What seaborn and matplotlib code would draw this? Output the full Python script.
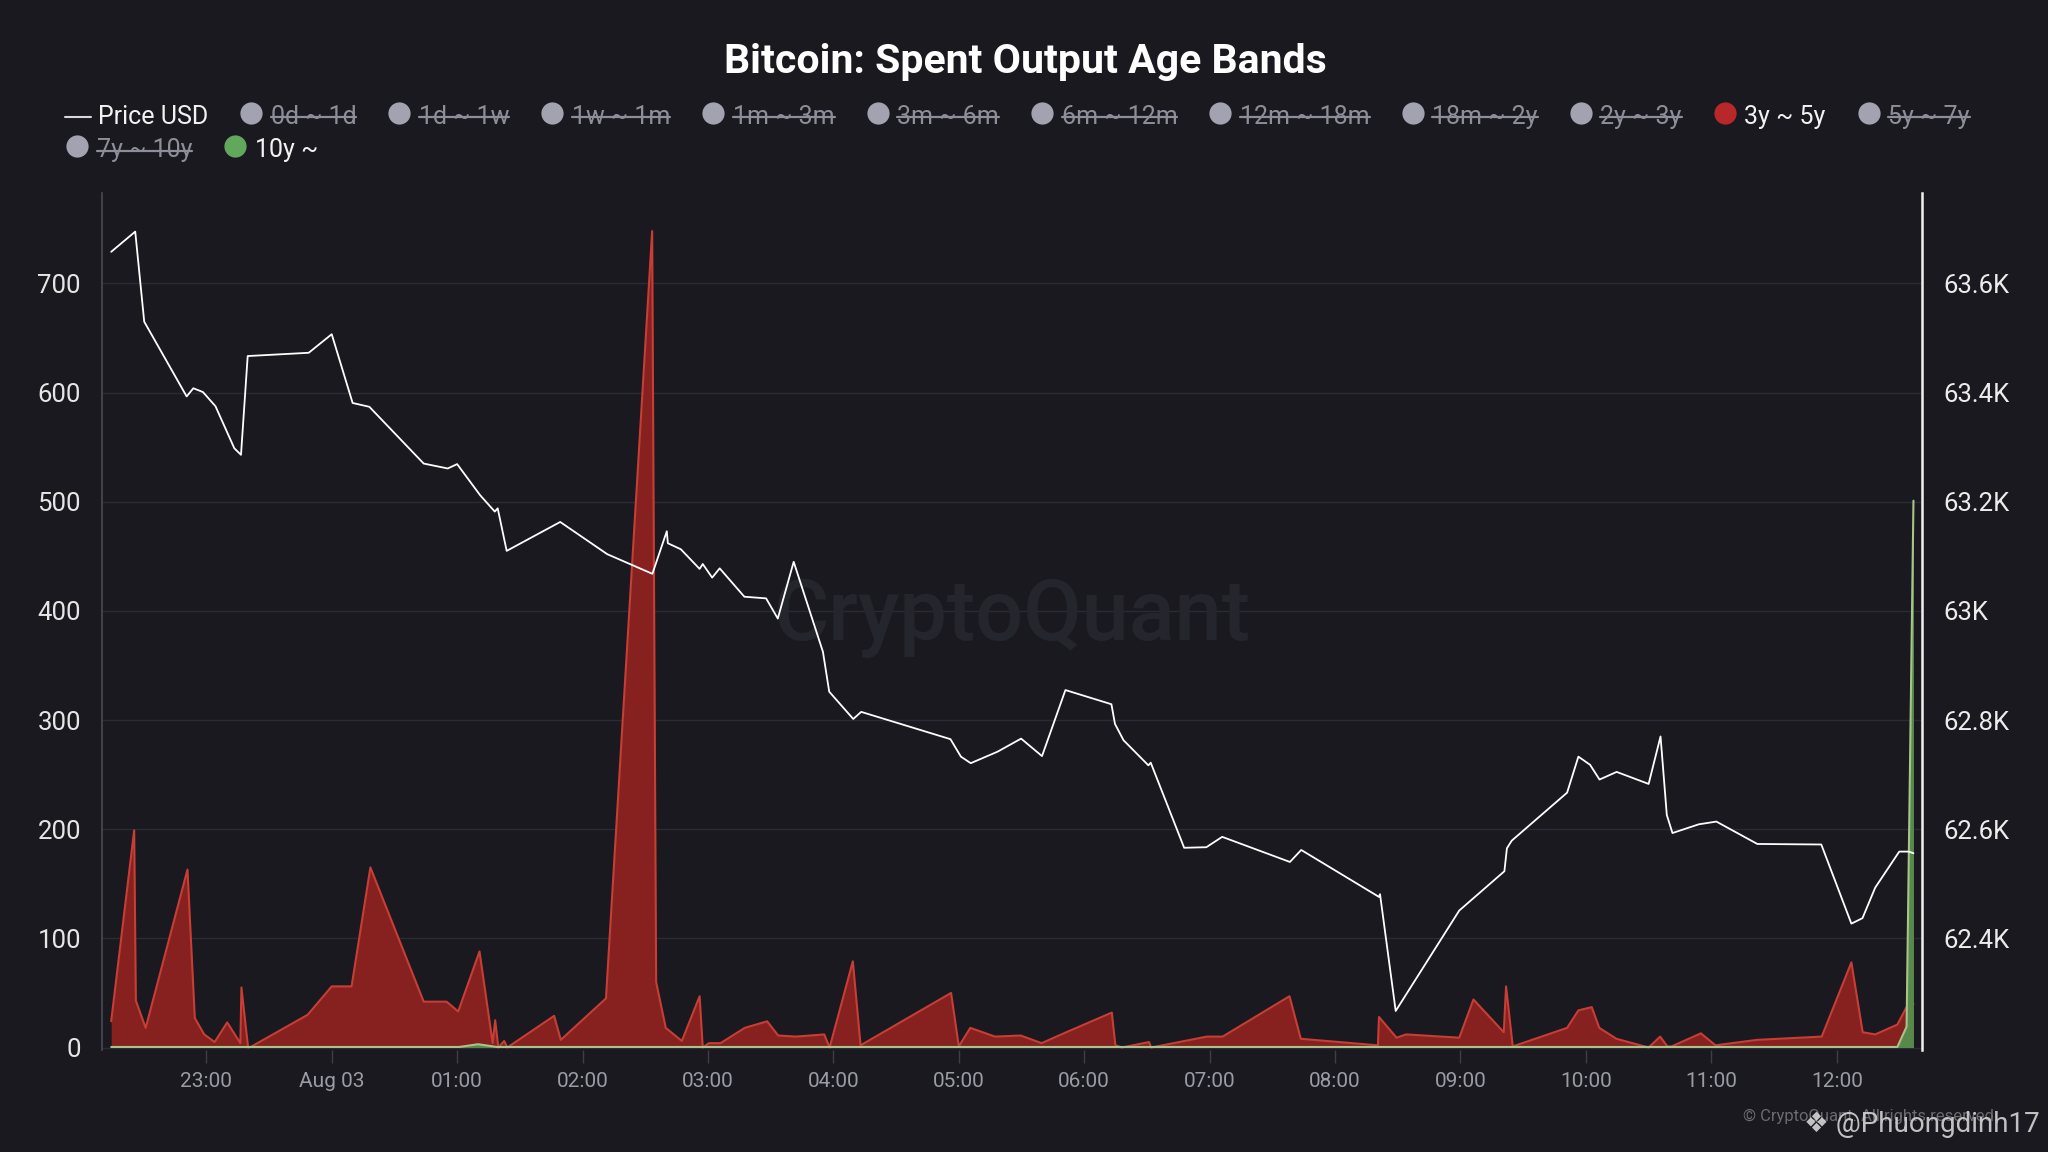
import matplotlib.pyplot as plt
import matplotlib.dates as mdates
from matplotlib.ticker import FuncFormatter
from matplotlib.lines import Line2D
import seaborn as sns
import pandas as pd

# time axis: minutes after 2024-08-02 22:00
start = pd.Timestamp("2024-08-02 22:00")

price_min = [14.5, 26, 30.3, 50.6, 53.8, 58.4, 64.4, 73.4, 76.6, 79.8,
             109, 120, 130, 138, 164, 175.5, 180, 191, 198, 199.4,
             203.7, 229.3, 251.8, 273.4, 280.3, 280.8, 287, 296, 297.5, 302,
             305.6, 317.4, 327.8, 333.4, 341, 355, 358, 369.5, 373.3, 416,
             421, 425.7, 438.5, 449.8, 459.8, 471, 493, 494.7, 498.8, 510.7,
             511.8, 527.8, 538.4, 546, 578.4, 583.8, 621, 621.5, 629, 659.4,
             681, 682.2, 684.5, 711, 716.4, 722, 726.5, 734.7, 750, 755.7,
             758.7, 761.4, 774, 782.4, 802, 832.6, 847, 852.3, 858.4, 869.9,
             874.4, 876.7]
price_usd = [63658, 63695, 63530, 63393, 63408, 63401, 63375, 63298, 63286, 63467,
             63473, 63507, 63381, 63374, 63270, 63261, 63269, 63212, 63182, 63188,
             63110, 63163, 63104, 63068, 63146, 63124, 63113, 63077, 63086, 63061,
             63078, 63026, 63023, 62986, 63090, 62925, 62852, 62802, 62815, 62765,
             62733, 62721, 62742, 62766, 62734, 62855, 62829, 62793, 62763, 62717,
             62722, 62566, 62567, 62586, 62540, 62562, 62476, 62481, 62267, 62451,
             62523, 62565, 62579, 62667, 62733, 62718, 62691, 62705, 62683, 62770,
             62626, 62593, 62609, 62614, 62573, 62572, 62427, 62437, 62493, 62559,
             62559, 62556]

band_3y5y_min = [14.5, 25.5, 26.3, 31, 51, 54.5, 59, 64, 70, 76.3,
                 76.8, 80, 81.7, 108.5, 120, 129.5, 138.5, 164, 175, 180.5,
                 190.7, 197, 198.2, 199.7, 202.5, 204, 226.4, 229.6, 251.2, 273.3,
                 275.2, 279.8, 287.5, 296, 297.5, 300.5, 306, 317.6, 328.3, 333.6,
                 342, 355.6, 358.2, 369.3, 373, 416.3, 420, 425.5, 437.3, 449.6,
                 459.6, 471.4, 493.2, 494.9, 498, 511, 512, 538.7, 546.2, 578.2,
                 583.6, 620.5, 621, 629.4, 634, 659.4, 666.2, 680.7, 681.8, 685,
                 711, 716.4, 722.8, 726.4, 734.6, 750, 755.5, 759, 761, 775,
                 782, 801.8, 832.8, 847, 852.4, 858.4, 869, 873.4, 876.7]
band_3y5y = [24, 199, 43, 18, 163, 27, 12, 5, 23, 4,
             55, 0, 1, 30, 56, 56, 165, 42, 42, 33,
             88, 4, 25, 0, 6, 0, 29, 7, 45, 748,
             60, 18, 6, 47, 0, 4, 4, 18, 24, 11,
             10, 12, 0, 79, 2, 50, 1, 18, 10, 11,
             4, 14, 32, 2, 0, 5, 0, 10, 10, 47,
             8, 2, 28, 9, 12, 9, 44, 14, 56, 1,
             18, 34, 37, 18, 8, 0, 10, 1, 1, 13,
             2, 7, 10, 78, 14, 12, 21, 37, 40]

band_10y_min = [14.5, 181, 190, 199, 869, 873.4, 876.7]
band_10y = [0.5, 0.5, 3, 0.5, 0.5, 19, 501]

band_labels = ["0d ~ 1d", "1d ~ 1w", "1w ~ 1m", "1m ~ 3m", "3m ~ 6m", "6m ~ 12m",
               "12m ~ 18m", "18m ~ 2y", "2y ~ 3y", "3y ~ 5y", "5y ~ 7y",
               "7y ~ 10y", "10y ~"]
shown_bands = {"3y ~ 5y": "#b8282a", "10y ~": "#62a85c"}

left_ticks = [0, 100, 200, 300, 400, 500, 600, 700]
right_ticks = [62400, 62600, 62800, 63000, 63200, 63400, 63600]

BG = "#19191f"
RED_FILL = "#86211f"
RED_LINE = "#c63e36"
GREEN_FILL = "#56894a"
GREEN_LINE = "#a9c48a"

sns.set_theme(style="dark", rc={"axes.facecolor": BG, "figure.facecolor": BG,
                                "savefig.facecolor": BG})
plt.rcParams["font.family"] = ["Roboto", "DejaVu Sans"]

fig = plt.figure(figsize=(20.48, 11.52), dpi=100)
ax = fig.add_axes([0.0497, 0.0888, 0.889, 0.7434])
ax2 = ax.twinx()

red = pd.DataFrame({"t": start + pd.to_timedelta(band_3y5y_min, unit="min"), "v": band_3y5y})
green = pd.DataFrame({"t": start + pd.to_timedelta(band_10y_min, unit="min"), "v": band_10y})
price = pd.DataFrame({"t": start + pd.to_timedelta(price_min, unit="min"), "p": price_usd})

ax.fill_between(red["t"], red["v"], color=RED_FILL, lw=0, zorder=2)
sns.lineplot(data=red, x="t", y="v", ax=ax, color=RED_LINE, lw=1.5,
             sort=False, estimator=None, zorder=3)
ax.fill_between(green["t"], green["v"], color=GREEN_FILL, lw=0, zorder=4)
sns.lineplot(data=green, x="t", y="v", ax=ax, color=GREEN_LINE, lw=1.5,
             sort=False, estimator=None, zorder=5)

sns.lineplot(data=price, x="t", y="p", ax=ax2, color="white", lw=1.3,
             sort=False, estimator=None)

# watermark
ax.text(0.5, 0.505, "CryptoQuant", transform=ax.transAxes, ha="center", va="center",
        fontsize=61, fontweight="medium", color="#25252d", zorder=1)

ax.set_xlim(start + pd.Timedelta(minutes=10), start + pd.Timedelta(minutes=881))
ax.set_ylim(-2, 782.6)
ax2.set_ylim(62196, 63765.2)
ax.set_yticks(left_ticks)
ax2.set_yticks(right_ticks)
ax2.yaxis.set_major_formatter(FuncFormatter(lambda v, p: f"{v / 1000:g}K"))


def hour_label(x, pos):
    d = mdates.num2date(x)
    return d.strftime("%b %d") if d.hour == 0 else d.strftime("%H:%M")


ax.xaxis.set_major_locator(mdates.HourLocator())
ax.xaxis.set_major_formatter(FuncFormatter(hour_label))

ax.yaxis.grid(True, color="#2b2a38", lw=1)
ax.xaxis.grid(False)
ax2.grid(False)
for a in (ax, ax2):
    a.set_xlabel("")
    a.set_ylabel("")
    for s in a.spines.values():
        s.set_visible(False)
ax.spines["left"].set_visible(True)
ax.spines["left"].set_color("#4a4a55")
ax.spines["left"].set_linewidth(1.2)
ax2.spines["right"].set_visible(True)
ax2.spines["right"].set_color("#f0f0f0")
ax2.spines["right"].set_linewidth(1.8)

ax.tick_params(axis="y", length=0, pad=15, labelsize=18.5, labelcolor="#e6e6e6")
ax.tick_params(axis="x", bottom=True, length=9, width=1, color="#3e3e48", pad=7,
               labelsize=15, labelcolor="#9b9ba5")
ax2.tick_params(axis="y", length=0, pad=15, labelsize=18.5, labelcolor="#ececec")

fig.text(0.5006, 0.946, "Bitcoin: Spent Output Age Bands", ha="center", va="center",
         fontsize=29.5, fontweight="bold", color="white")

# legend laid out like the web chart: flowing rows
fig.canvas.draw()
rend = fig.canvas.get_renderer()
W, H = 2048, 1152
rows = [1028, 994.5]
row = 0
x = 65
fig.add_artist(Line2D([x / W, (x + 26) / W], [(rows[0] + 6.7) / H] * 2,
                      color="#d8d8d8", lw=1.5))
t = fig.text((x + 33) / W, rows[0] / H, "Price USD", fontsize=18,
             color="#f2f2f2", va="baseline")
x = t.get_window_extent(rend).x1 + 43
for lab in band_labels:
    on = lab in shown_bands
    t = fig.text(0, 0, lab, fontsize=18, va="baseline",
                 color="#f2f2f2" if on else "#8e8e9a")
    w = t.get_window_extent(rend).width
    if x + 19.6 + w > 2015:
        row += 1
        x = 77
    t.set_position(((x + 19.6) / W, rows[row] / H))
    fig.add_artist(Line2D([x / W], [(rows[row] + 11.5) / H], marker="o", ms=16,
                          color=shown_bands.get(lab, "#a2a2b0"), mec="none", lw=0))
    if not on:
        fig.add_artist(Line2D([(x + 19.6) / W, (x + 19.6 + w) / W],
                              [(rows[row] + 6.7) / H] * 2, color="#8e8e9a", lw=1.6))
    x = x + 19.6 + w + 43

fig.text(1998 / W, 0.031, "\u00a9 CryptoQuant. All rights reserved.", ha="right",
         va="center", fontsize=12, color="#6a6a72")
fig.text(2040 / W, 0.024, "\u2756 @Phuongdinh17", ha="right", va="center",
         fontsize=20, color="#d4d4d4", alpha=0.9)

fig.savefig("out.png", dpi=100)
